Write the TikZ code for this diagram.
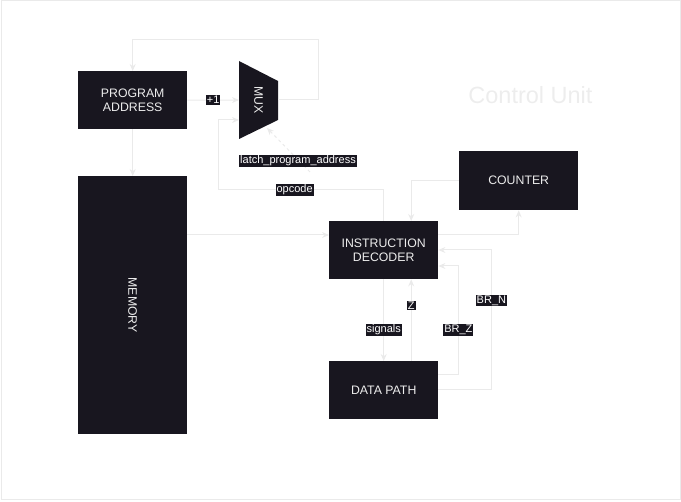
\documentclass[tikz,border=0pt]{standalone}
\usepackage{fontspec}
\setmainfont{Liberation Sans}
\usetikzlibrary{arrows.meta}
\definecolor{boxfill}{HTML}{18161F}
\definecolor{linec}{HTML}{EAEAEA}
\definecolor{boxtext}{HTML}{EDEDED}
\definecolor{cugray}{HTML}{EDEDED}
\begin{document}
\begin{tikzpicture}[x=1pt,y=-1pt,
  blk/.style={draw=none,fill=boxfill,text=boxtext,font=\fontsize{12.3}{14}\selectfont,align=center,inner sep=0pt,anchor=north west},
  conn/.style={draw=linec,line width=1pt,-{Stealth[length=7pt,width=6pt]}},
  lbl/.style={fill=boxfill,text=white,font=\fontsize{11}{12}\selectfont,inner sep=1pt}]
\useasboundingbox (0,0) rectangle (681,502);
\draw[linec,line width=1pt] (1,1) rectangle (680,500);
\node[text=cugray,font=\fontsize{23.5}{26}\selectfont] (cu) at (530.5,95) {Control Unit};
% blocks
\node[blk,minimum width=109pt,minimum height=58pt] (pa) at (78,71) {PROGRAM\\ADDRESS};
\node[blk,minimum width=109pt,minimum height=258pt] (mem) at (78,176) {};
\node[text=boxtext,font=\fontsize{12.3}{14}\selectfont,rotate=-90] (memt) at (mem.center) {MEMORY};
\node[blk,minimum width=109pt,minimum height=58pt] (dec) at (329,221) {INSTRUCTION\\DECODER};
\node[blk,minimum width=119pt,minimum height=59pt] (cnt) at (459,151) {COUNTER};
\node[blk,minimum width=109pt,minimum height=58pt] (dp) at (329,361) {DATA PATH};
% mux
\fill[boxfill] (239,61) -- (278,81) -- (278,120) -- (239,139) -- cycle;
\node[text=boxtext,font=\fontsize{12.3}{14}\selectfont,rotate=-90] (mux) at (258.5,100) {MUX};
\coordinate (muxin1) at (239,100);
\coordinate (muxin2) at (239,120);
\coordinate (muxout) at (278,100);
\coordinate (muxlatch) at (267,128);
\coordinate (latchsrc) at (310,172);
% connectors
\draw[conn] (pa.east) -- node[lbl]{+1} (muxin1);
\draw[conn] (muxout) -- ++(40,0) -- ++(0,-60) -| (pa.north);
\draw[conn] (pa.south) -- (mem.north);
\draw[conn] (mem.east |- 0,235) -- (dec.west |- 0,235);
\draw[conn] (dec.north) -- ++(0,-31) -- node[lbl,pos=0.54]{opcode} ++(-165,0) -- ++(0,-70) -- (muxin2);
\draw[conn,dashed] (latchsrc) -- (muxlatch);
\node[lbl] (latchlbl) at (298,161) {latch\_program\_address};
\draw[conn] (cnt.west) -| ([xshift=27.5pt]dec.north);
\draw[conn] (dec.east |- 0,235) -| (cnt.south);
\draw[conn] (dec.south) -- node[lbl,pos=0.62]{signals} (dp.north);
\draw[conn] ([xshift=27.5pt]dp.north) -- node[lbl,pos=0.68]{Z} ([xshift=27.5pt]dec.south);
\draw[conn] (dp.east |- 0,375) -- ++(20,0) -- node[lbl,pos=0.41]{BR\_Z} ++(0,-109) -- (dec.east |- 0,266);
\draw[conn] (dp.east |- 0,390) -- ++(53,0) -- node[lbl,pos=0.64]{BR\_N} ++(0,-140) -- (dec.east |- 0,250);
\end{tikzpicture}
\end{document}
